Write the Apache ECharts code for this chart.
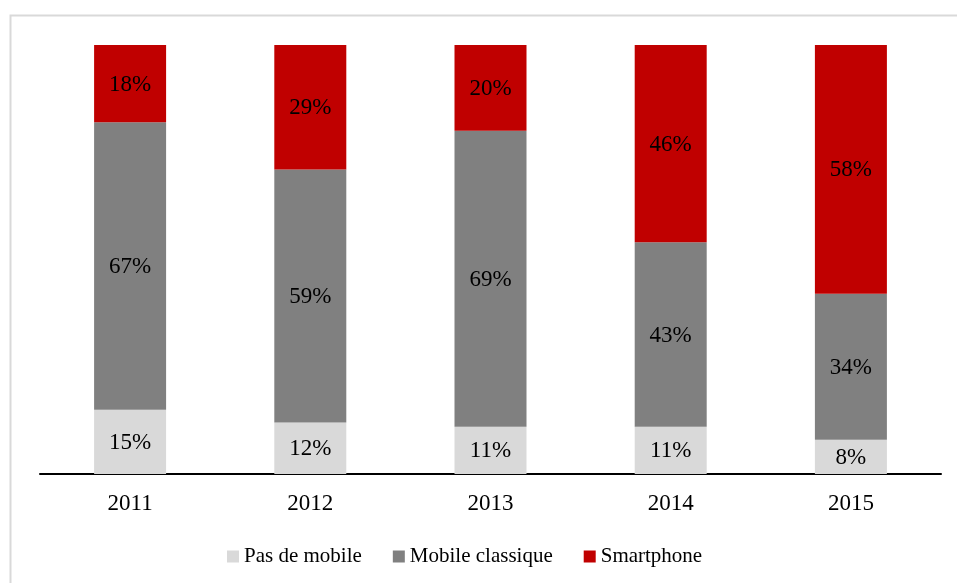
<!DOCTYPE html>
<html>
<head>
<meta charset="utf-8">
<script src="https://cdn.jsdelivr.net/npm/echarts@6/dist/echarts.min.js"></script>
<style>
  html, body { margin: 0; padding: 0; background: #fff; }
  #chart { width: 957px; height: 583px; }
</style>
</head>
<body>
<div id="chart"></div>
<script>
const years = ['2011', '2012', '2013', '2014', '2015'];
const pasDeMobile = [15, 12, 11, 11, 8];
const mobileClassique = [67, 59, 69, 43, 34];
const smartphone = [18, 29, 20, 46, 58];

const serif = '"Liberation Serif", "DejaVu Serif", serif';

function barSeries(name, data, color) {
  return {
    name: name,
    type: 'bar',
    stack: 'total',
    barWidth: 72,
    data: data,
    itemStyle: { color: color },
    label: {
      show: true,
      position: 'inside',
      offset: [0, 1],
      formatter: p => p.value + '%',
      color: '#000',
      fontFamily: serif,
      fontSize: 23
    }
  };
}

const chart = echarts.init(document.getElementById('chart'));
chart.setOption({
  animation: false,
  backgroundColor: '#fff',
  graphic: [{
    type: 'rect',
    shape: { x: 10.5, y: 15.5, width: 1000, height: 1000 },
    style: { fill: 'none', stroke: '#d9d9d9', lineWidth: 2 },
    z: -1
  }],
  grid: { left: 40, right: 16, top: 45, bottom: 109 },
  xAxis: {
    type: 'category',
    data: years,
    axisLine: { lineStyle: { color: '#000', width: 2 } },
    axisTick: { show: false },
    axisLabel: { color: '#000', fontFamily: serif, fontSize: 23, margin: 18 }
  },
  yAxis: {
    type: 'value',
    min: 0,
    max: 100,
    show: false
  },
  legend: {
    left: 222,
    top: 541,
    itemWidth: 12,
    itemHeight: 12,
    itemGap: 31,
    icon: 'rect',
    textStyle: { color: '#000', fontFamily: serif, fontSize: 21 },
    data: ['Pas de mobile', 'Mobile classique', 'Smartphone']
  },
  series: [
    barSeries('Pas de mobile', pasDeMobile, '#d9d9d9'),
    barSeries('Mobile classique', mobileClassique, '#808080'),
    barSeries('Smartphone', smartphone, '#c00000')
  ]
});
</script>
</body>
</html>
